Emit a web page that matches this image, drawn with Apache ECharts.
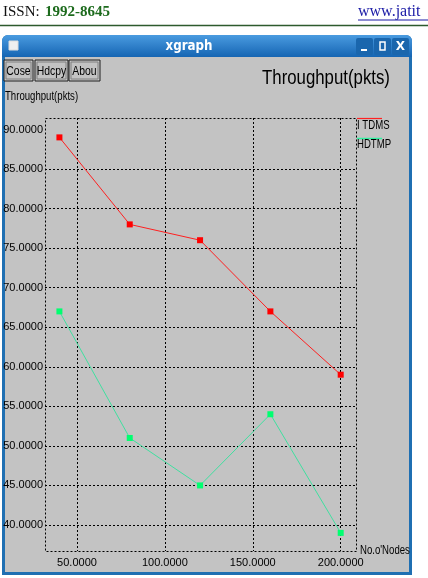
<!DOCTYPE html>
<html><head><meta charset="utf-8">
<script src="https://cdn.jsdelivr.net/npm/echarts@6/dist/echarts.min.js"></script>
<style>html,body{margin:0;padding:0;background:#fff}#c{width:428px;height:578px}</style>
</head><body><div id="c"></div>
<script>
const nodes = [40, 80, 120, 160, 200];
const ltdms = [89, 78, 76, 67, 59];
const hdtmp = [67, 51, 45, 54, 39];
const xTicks = [50, 100, 150, 200];
const yTicks = [40, 45, 50, 55, 60, 65, 70, 75, 80, 85, 90];
const yGridTicks = [40, 45, 50, 55, 60, 65, 70, 75, 80, 85];
const seriesNames = ['I TDMS', 'HDTMP'];

const SANS = '"Liberation Sans",Arial,sans-serif';
const GL = 45, GT = 118, GW = 311, GH = 433;

const chart = echarts.init(document.getElementById('c'));
const txt = (x, y, s, o, sx) => Object.assign({type:'text', x, y, z:100, scaleX: sx || 1,
  style: Object.assign({text:s, fill:'#000', font:'12px ' + SANS}, o||{})});
const btn = (x, w, label) => [
  {type:'rect', shape:{x:x, y:60, width:w, height:21}, style:{fill:'#c3c3c3', stroke:'#202020', lineWidth:1}, z:50},
  {type:'rect', shape:{x:x+2, y:62, width:w-4, height:17}, style:{fill:'none', stroke:'#808080', lineWidth:1}, z:50},
  txt(x + w/2, 71, label, {align:'center', verticalAlign:'middle', font:'13px ' + SANS}, 0.8)
];

const graphic = [
  // page header
  txt(3, 12, 'ISSN:', {font:'15px "Liberation Serif",serif', fill:'#111', verticalAlign:'middle'}),
  txt(45, 12, '1992-8645', {font:'bold 15px "Liberation Serif",serif', fill:'#1d6b1d', verticalAlign:'middle'}),
  txt(358, 12, 'www.jatit', {font:'16px "Liberation Serif",serif', fill:'#1a1aa6', verticalAlign:'middle'}),
  {type:'line', shape:{x1:358, y1:20, x2:428, y2:20}, style:{stroke:'#1a1aa6', lineWidth:1}, z:100},
  {type:'line', shape:{x1:0, y1:25.5, x2:428, y2:25.5}, style:{stroke:'#2d5a2d', lineWidth:1.5}, z:100},
  // window frame
  {type:'rect', shape:{x:2, y:35, width:410, height:540, r:[6,6,0,0]}, style:{fill:'#1f6fb2'}, z:-20},
  {type:'rect', shape:{x:2, y:35, width:410, height:22, r:[6,6,0,0]},
   style:{fill:new echarts.graphic.LinearGradient(0,0,0,1,[{offset:0,color:'#4a9be0'},{offset:1,color:'#1565b3'}])}, z:-19},
  {type:'rect', shape:{x:5, y:57, width:404, height:515}, style:{fill:'#c3c3c3'}, z:-18},
  {type:'rect', shape:{x:9, y:41, width:9, height:9}, style:{fill:'#f0f0f0', stroke:'#ddd'}, z:60},
  txt(189, 46, 'xgraph', {font:'bold 14px "DejaVu Sans",sans-serif', fill:'#fff', align:'center', verticalAlign:'middle'}, 0.85),
  {type:'rect', shape:{x:356, y:38, width:17, height:17, r:2}, style:{fill:'#1a66ad'}, z:55},
  {type:'rect', shape:{x:374, y:38, width:17, height:17, r:2}, style:{fill:'#1a66ad'}, z:55},
  {type:'rect', shape:{x:392, y:38, width:17, height:17, r:2}, style:{fill:'#1a66ad'}, z:55},
  {type:'rect', shape:{x:361, y:49, width:6, height:2}, style:{fill:'#fff'}, z:60},
  {type:'rect', shape:{x:380, y:42, width:5, height:8}, style:{fill:'none', stroke:'#fff', lineWidth:1.5}, z:60},
  txt(400.5, 46.5, 'X', {font:'bold 12px "DejaVu Sans",sans-serif', fill:'#fff', align:'center', verticalAlign:'middle'}),
  // buttons
  ...btn(4, 29, 'Cose'), ...btn(35, 33, 'Hdcpy'), ...btn(69, 31, 'Abou'),
  // titles
  txt(5, 97, 'Throughput(pkts)', {verticalAlign:'middle'}, 0.8),
  txt(326, 78, 'Throughput(pkts)', {font:'20px ' + SANS, align:'center', verticalAlign:'middle'}, 0.84),
  txt(360, 551, 'No.o\'Nodes', {verticalAlign:'middle'}, 0.8),
  // plot border
  {type:'rect', shape:{x:GL+0.5, y:GT+0.5, width:GW, height:GH}, style:{fill:'none', stroke:'#000', lineWidth:1, lineDash:[2,2]}, z:5},
  // legend
  {type:'line', shape:{x1:357, y1:118.5, x2:382, y2:118.5}, style:{stroke:'#ff2020', lineWidth:1.2}, z:60},
  txt(357, 126, seriesNames[0], {verticalAlign:'middle'}, 0.8),
  {type:'line', shape:{x1:357, y1:138.5, x2:382, y2:138.5}, style:{stroke:'#30f0a0', lineWidth:1.5}, z:60},
  txt(357, 145, seriesNames[1], {verticalAlign:'middle'}, 0.8)
];

chart.setOption({
  backgroundColor:'#ffffff',
  animation:false,
  graphic: graphic,
  grid:{left:GL, top:GT, width:GW, height:GH, show:false},
  xAxis:{type:'value', min:31.8, max:208.7,
    axisLine:{show:false}, axisTick:{show:false, customValues:xTicks},
    axisLabel:{customValues:xTicks, formatter:v=>v.toFixed(4), color:'#000', fontFamily:SANS, fontSize:11, margin:6},
    splitLine:{show:true, lineStyle:{color:'#000', width:1, type:[2,2]}}},
  yAxis:{type:'value', min:36.71, max:91.45,
    axisLine:{show:false}, axisTick:{show:false, customValues:yGridTicks},
    axisLabel:{customValues:yTicks, formatter:v=>v.toFixed(4), color:'#000', fontFamily:SANS, fontSize:11, margin:2},
    splitLine:{show:true, lineStyle:{color:'#000', width:1, type:[2,2]}}},
  series:[
    {name:seriesNames[0], type:'line', data:nodes.map((x,i)=>[x, ltdms[i]]), symbol:'rect', symbolSize:6,
     lineStyle:{color:'#ff2020', width:1}, itemStyle:{color:'#ff0000'}, z:10},
    {name:seriesNames[1], type:'line', data:nodes.map((x,i)=>[x, hdtmp[i]]), symbol:'rect', symbolSize:6,
     lineStyle:{color:'#40e0a0', width:1}, itemStyle:{color:'#00ff70'}, z:10}
  ]
});
</script></body></html>
